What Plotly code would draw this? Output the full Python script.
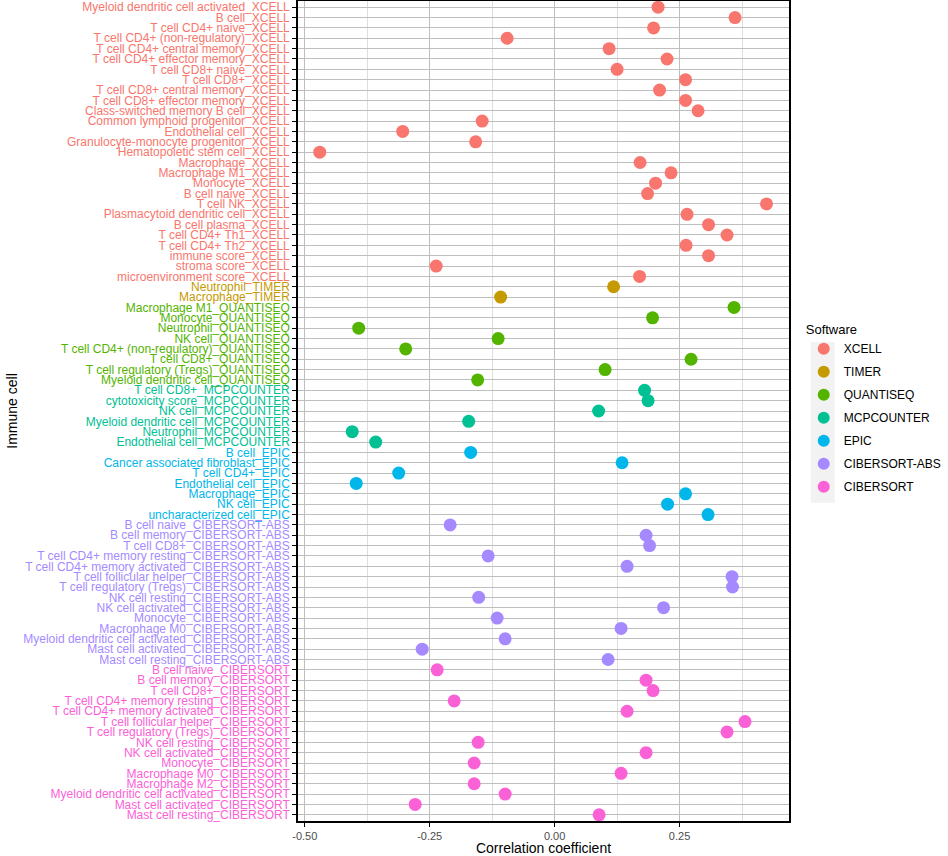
import plotly.graph_objects as go

# datos (coeficiente de correlacion por celula)
xcell_cells = ["Myeloid dendritic cell activated", "B cell", "T cell CD4+ naive",
               "T cell CD4+ (non-regulatory)", "T cell CD4+ central memory",
               "T cell CD4+ effector memory", "T cell CD8+ naive", "T cell CD8+",
               "T cell CD8+ central memory", "T cell CD8+ effector memory",
               "Class-switched memory B cell", "Common lymphoid progenitor",
               "Endothelial cell", "Granulocyte-monocyte progenitor",
               "Hematopoietic stem cell", "Macrophage", "Macrophage M1", "Monocyte",
               "B cell naive", "T cell NK", "Plasmacytoid dendritic cell", "B cell plasma",
               "T cell CD4+ Th1", "T cell CD4+ Th2", "immune score", "stroma score",
               "microenvironment score"]
xcell_r = [0.207, 0.361, 0.198, -0.095, 0.109, 0.225, 0.125, 0.262, 0.210, 0.262,
           0.287, -0.145, -0.304, -0.158, -0.470, 0.171, 0.233, 0.202, 0.186, 0.424,
           0.265, 0.308, 0.345, 0.263, 0.308, -0.237, 0.170]

timer_cells = ["Neutrophil", "Macrophage"]
timer_r = [0.118, -0.108]

quantiseq_cells = ["Macrophage M1", "Monocyte", "Neutrophil", "NK cell",
                   "T cell CD4+ (non-regulatory)", "T cell CD8+",
                   "T cell regulatory (Tregs)", "Myeloid dendritic cell"]
quantiseq_r = [0.359, 0.196, -0.392, -0.113, -0.298, 0.273, 0.101, -0.154]

mcp_cells = ["T cell CD8+", "cytotoxicity score", "NK cell", "Myeloid dendritic cell",
             "Neutrophil", "Endothelial cell"]
mcp_r = [0.180, 0.187, 0.088, -0.172, -0.405, -0.358]

epic_cells = ["B cell", "Cancer associated fibroblast", "T cell CD4+", "Endothelial cell",
              "Macrophage", "NK cell", "uncharacterized cell"]
epic_r = [-0.168, 0.135, -0.312, -0.397, 0.262, 0.226, 0.307]

cibabs_cells = ["B cell naive", "B cell memory", "T cell CD8+", "T cell CD4+ memory resting",
                "T cell CD4+ memory activated", "T cell follicular helper",
                "T cell regulatory (Tregs)", "NK cell resting", "NK cell activated",
                "Monocyte", "Macrophage M0", "Myeloid dendritic cell activated",
                "Mast cell activated", "Mast cell resting"]
cibabs_r = [-0.209, 0.183, 0.190, -0.133, 0.145, 0.355, 0.356, -0.152, 0.218, -0.115,
            0.133, -0.099, -0.265, 0.107]

cib_cells = ["B cell naive", "B cell memory", "T cell CD8+", "T cell CD4+ memory resting",
             "T cell CD4+ memory activated", "T cell follicular helper",
             "T cell regulatory (Tregs)", "NK cell resting", "NK cell activated",
             "Monocyte", "Macrophage M0", "Macrophage M2",
             "Myeloid dendritic cell activated", "Mast cell activated", "Mast cell resting"]
cib_r = [-0.235, 0.183, 0.197, -0.201, 0.145, 0.381, 0.345, -0.153, 0.183, -0.161,
         0.133, -0.161, -0.099, -0.279, 0.089]

software = ["XCELL", "TIMER", "QUANTISEQ", "MCPCOUNTER", "EPIC", "CIBERSORT-ABS", "CIBERSORT"]
colores = ["#F8766D", "#C49A00", "#53B400", "#00C094", "#00B6EB", "#A58AFF", "#FB61D7"]

grupos = [(xcell_cells, xcell_r), (timer_cells, timer_r), (quantiseq_cells, quantiseq_r),
          (mcp_cells, mcp_r), (epic_cells, epic_r), (cibabs_cells, cibabs_r),
          (cib_cells, cib_r)]

fig = go.Figure()
etiquetas = []
ticktext = []

for (cells, vals), sw, col in zip(grupos, software, colores):
    labs = [c + "_" + sw for c in cells]
    etiquetas += labs
    ticktext += ['<span style="color:%s">%s</span>' % (col, l) for l in labs]
    fig.add_trace(go.Scatter(
        x=vals, y=labs, mode="markers", name=sw, legendgroup=sw,
        marker=dict(size=13, color=col, line=dict(width=0)),
        hovertemplate="%{y}: %{x}<extra></extra>"
    ))

n = len(etiquetas)

fig.update_layout(
    width=948, height=856,
    margin=dict(l=298, r=156, t=1, b=35),
    paper_bgcolor="white", plot_bgcolor="white",
    font=dict(family="Liberation Sans, Arial", size=12, color="black"),
    legend=dict(
        title=dict(text="Software", font=dict(size=13)),
        x=1.03, xanchor="left", y=0.502, yanchor="middle",
        font=dict(size=12), tracegroupgap=4, itemsizing="constant",
        bgcolor="rgba(0,0,0,0)"
    ),
    # fondo gris de las claves de la leyenda (estilo ggplot)
    shapes=[dict(type="rect", xref="paper", yref="paper",
                 x0=1.0445, x1=1.093, y0=0.388, y1=0.584,
                 fillcolor="#F2F2F2", line=dict(width=0), layer="below")],
)

fig.update_xaxes(
    range=[-0.5135, 0.469], automargin=False,
    tickvals=[-0.5, -0.25, 0, 0.25], ticktext=["-0.50", "-0.25", "0.00", "0.25"],
    tickfont=dict(size=11, color="#4D4D4D"),
    showgrid=True, gridcolor="#BEBEBE", gridwidth=1.3,
    minor=dict(tickvals=[-0.375, -0.125, 0.125, 0.375], showgrid=True,
               gridcolor="#DEDEDE", gridwidth=0.8),
    ticks="outside", ticklen=4, tickcolor="black",
    showline=True, linecolor="black", linewidth=1.6, mirror=True,
    zeroline=False,
    title=dict(text="Correlation coefficient", font=dict(size=14), standoff=2),
)

fig.update_yaxes(
    type="category", categoryarray=etiquetas, automargin=False,
    tickvals=etiquetas, ticktext=ticktext,
    range=[n - 1 + 0.6, -0.6],
    tickfont=dict(size=12),
    showgrid=True, gridcolor="#BEBEBE", gridwidth=1.3,
    ticks="outside", ticklen=4, tickcolor="black",
    showline=True, linecolor="black", linewidth=1.6, mirror=True,
    zeroline=False,
    title=dict(text="Immune cell", font=dict(size=14), standoff=2),
)

# quitar el margen por defecto del body para que la figura empiece en (0,0)
fig.write_html("out.html", config={"displayModeBar": False},
               post_script="document.body.style.margin='0';")
